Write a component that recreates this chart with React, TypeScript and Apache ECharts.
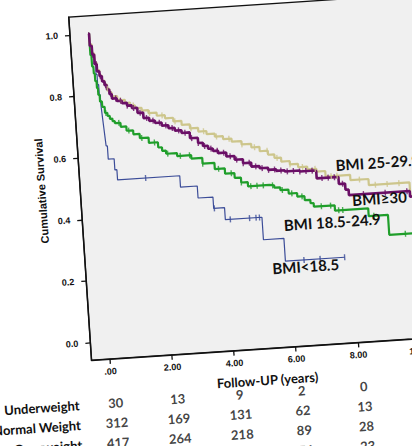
import React, { useEffect, useRef } from "react";
import * as echarts from "echarts";

// Axis ticks
const followUpTicks = [0, 2, 4, 6, 8, 10];
const survivalTicks = [0, 0.2, 0.4, 0.6, 0.8, 1.0];

// Kaplan-Meier estimates: [years, cumulative survival after the event]
const underweightCurve: [number, number][] = [
  [0, 1], [0.03, 0.967], [0.07, 0.933], [0.12, 0.9], [0.17, 0.867], [0.2, 0.833],
  [0.23, 0.8], [0.26, 0.767], [0.28, 0.733], [0.3, 0.7], [0.32, 0.667], [0.34, 0.633],
  [0.38, 0.59], [0.57, 0.554], [0.635, 0.521], [2.64, 0.484], [3.18, 0.445],
  [3.66, 0.408], [4.01, 0.369], [5.19, 0.296], [5.85, 0.222], [7.76, 0.222],
];
const normalCurve: [number, number][] = [
  [0, 1], [0.03, 0.93], [0.06, 0.893], [0.1, 0.87], [0.13, 0.845], [0.17, 0.822],
  [0.2, 0.8], [0.24, 0.778], [0.3, 0.76], [0.375, 0.74], [0.45, 0.73], [0.52, 0.72],
  [0.6, 0.712], [0.67, 0.705], [0.85, 0.692], [1.03, 0.678], [1.24, 0.665],
  [1.44, 0.651], [1.72, 0.634], [2.01, 0.617], [2.13, 0.605], [2.25, 0.595],
  [2.6, 0.585], [3.05, 0.574], [3.4, 0.555], [3.78, 0.535], [4.1, 0.518],
  [4.4, 0.502], [4.6, 0.486], [4.81, 0.472], [5.5, 0.47], [5.65, 0.462],
  [5.84, 0.453], [6.1, 0.44], [6.37, 0.428], [6.6, 0.415], [6.78, 0.404],
  [6.88, 0.392], [7.55, 0.375], [8.62, 0.35], [9.24, 0.285], [10.5, 0.285],
];
const overweightCurve: [number, number][] = [
  [0, 1], [0.03, 0.965], [0.09, 0.935], [0.15, 0.905], [0.21, 0.88], [0.28, 0.862],
  [0.35, 0.845], [0.42, 0.832], [0.49, 0.818], [0.56, 0.805], [0.63, 0.792],
  [0.8, 0.778], [1.04, 0.768], [1.2, 0.758], [1.35, 0.749], [1.56, 0.74],
  [1.77, 0.73], [2.03, 0.72], [2.29, 0.71], [2.55, 0.698], [2.81, 0.685],
  [3.07, 0.672], [3.33, 0.66], [3.59, 0.65], [3.85, 0.64], [4.11, 0.63],
  [4.38, 0.62], [4.69, 0.609], [5.0, 0.597], [5.26, 0.583], [5.52, 0.57],
  [5.72, 0.558], [5.93, 0.545], [6.2, 0.534], [6.46, 0.523], [6.75, 0.514],
  [7.04, 0.505], [7.32, 0.487], [8.11, 0.47], [8.69, 0.45], [10.0, 0.404],
  [10.5, 0.404],
];
const obeseCurve: [number, number][] = [
  [0, 1], [0.03, 0.96], [0.09, 0.931], [0.15, 0.9], [0.21, 0.876], [0.28, 0.86],
  [0.35, 0.843], [0.42, 0.83], [0.49, 0.815], [0.56, 0.8], [0.63, 0.785],
  [0.78, 0.776], [0.94, 0.768], [1.1, 0.759], [1.25, 0.75], [1.42, 0.733],
  [1.6, 0.715], [1.78, 0.705], [1.96, 0.697], [2.17, 0.687], [2.38, 0.677],
  [2.58, 0.668], [2.79, 0.659], [3.05, 0.64], [3.3, 0.623], [3.45, 0.612],
  [3.61, 0.602], [3.76, 0.594], [3.92, 0.586], [4.18, 0.573], [4.44, 0.561],
  [4.7, 0.548], [4.96, 0.535], [5.22, 0.528], [5.49, 0.521], [5.75, 0.516],
  [6.02, 0.512], [6.5, 0.509], [6.98, 0.507], [7.03, 0.483], [7.73, 0.46],
  [7.93, 0.44], [8.03, 0.422], [9.99, 0.404], [10.5, 0.404],
];

// Censoring times (years)
const underweightCensored = [1.54, 3.68, 4.17, 4.79, 5.0, 5.11, 6.45, 6.97, 7.76];
const normalCensored = [
  0.4, 0.8, 1.1, 1.5, 1.9, 2.3, 2.7, 3.0, 3.4, 3.9, 4.3, 4.6, 4.9, 5.1, 5.3, 5.6,
  5.9, 6.2, 6.52, 7.12, 7.42, 7.67, 7.8, 8.79, 9.76,
];
const overweightCensored = [
  0.5, 0.9, 1.3, 1.8, 2.2, 2.6, 3.1, 3.5, 3.9, 4.3, 4.7, 5.1, 5.5, 5.8, 6.2, 6.6,
  7.0, 7.5, 7.69, 8.4, 8.9, 9.28, 9.66,
];
const obeseCensored = [
  0.1, 0.2, 0.3, 0.45, 0.6, 0.75, 0.9, 1.1, 1.3, 1.5, 1.7, 1.9, 2.1, 2.3, 2.5, 2.7,
  2.9, 3.1, 3.3, 3.5, 3.7, 3.9, 4.1, 4.3, 4.5, 4.7, 4.9, 5.1, 5.3, 5.5, 5.7, 5.9,
  6.1, 6.3, 6.5, 6.7, 6.9, 7.2, 7.4, 7.6, 7.85, 8.5, 9.2, 9.9,
];

// Number at risk
const riskGroups = ["Underweight", "Normal Weight", "Overweight", "Obese"];
const riskTimes = [0, 2, 4, 6, 8];
const underweightAtRisk = [30, 13, 9, 2, 0];
const normalAtRisk = [312, 169, 131, 62, 13];
const overweightAtRisk = [417, 264, 218, 89, 28];
const obeseAtRisk = [356, 228, 187, 74, 23];

const groupLabels = ["BMI<18.5", "BMI 18.5-24.9", "BMI 25-29.9", "BMI\u226530"];

const survivalAt = (curve: [number, number][], t: number) => {
  let s = curve[0][1];
  for (const [x, y] of curve) {
    if (x <= t) s = y;
    else break;
  }
  return s;
};

const INK = "#111111";
const AXIS_FONT = "'Liberation Sans', Arial, sans-serif";
const TABLE_FONT = "Lato, 'Open Sans', sans-serif";

export default function App() {
  const ref = useRef<HTMLDivElement>(null);

  useEffect(() => {
    if (!ref.current) return;
    const chart = echarts.init(ref.current, undefined, { renderer: "svg" });

    const groups = [
      { name: groupLabels[0], curve: underweightCurve, censored: underweightCensored, color: "#3b4c98", width: 1.2 },
      { name: groupLabels[1], curve: normalCurve, censored: normalCensored, color: "#1f9e2a", width: 2.2 },
      { name: groupLabels[2], curve: overweightCurve, censored: overweightCensored, color: "#cdc68c", width: 2.2 },
      { name: groupLabels[3], curve: obeseCurve, censored: obeseCensored, color: "#6a0f66", width: 2.6 },
    ];

    const lineSeries = groups.flatMap((g) => [
      {
        type: "line",
        name: g.name,
        xAxisIndex: 0,
        yAxisIndex: 0,
        step: "end",
        data: g.curve,
        showSymbol: false,
        symbol: "none",
        lineStyle: { color: g.color, width: g.width },
        z: 3,
      },
      {
        type: "scatter",
        name: g.name + " censored",
        xAxisIndex: 0,
        yAxisIndex: 0,
        data: g.censored.map((t) => [t, survivalAt(g.curve, t)]),
        symbol: "rect",
        symbolSize: [1.4, 6],
        itemStyle: { color: g.color },
        z: 4,
      },
    ]);

    const riskRows = [underweightAtRisk, normalAtRisk, overweightAtRisk, obeseAtRisk];
    const riskData = riskRows.flatMap((row, i) =>
      row.map((n, j) => [riskTimes[j], riskGroups[i], n])
    );

    chart.setOption({
      animation: false,
      backgroundColor: "#ffffff",
      grid: [
        {
          left: 101,
          top: 60,
          width: 347.2,
          height: 343.7,
          show: true,
          backgroundColor: "#f0f0f0",
          borderColor: INK,
          borderWidth: 1.3,
          outerBoundsMode: "none",
          containLabel: false,
        },
        {
          left: 101,
          top: 437.9,
          width: 347.2,
          height: 79.6,
          show: false,
          outerBoundsMode: "none",
          containLabel: false,
        },
      ],
      xAxis: [
        {
          type: "value",
          gridIndex: 0,
          min: -0.585,
          max: 10.585,
          splitLine: { show: false },
          axisLine: { show: true, onZero: false, lineStyle: { color: INK, width: 1.5 } },
          axisTick: {
            show: true,
            length: 5,
            customValues: followUpTicks,
            lineStyle: { color: INK, width: 1.3 },
          },
          axisLabel: {
            customValues: followUpTicks,
            margin: 8,
            color: INK,
            fontFamily: AXIS_FONT,
            fontWeight: "bold",
            fontSize: 9,
            formatter: (v: number) => (v === 0 ? ".00" : v.toFixed(2)),
          },
        },
        {
          type: "value",
          gridIndex: 1,
          min: -0.585,
          max: 10.585,
          show: false,
        },
      ],
      yAxis: [
        {
          type: "value",
          gridIndex: 0,
          min: -0.0564,
          max: 1.0577,
          splitLine: { show: false },
          axisLine: { show: true, onZero: false, lineStyle: { color: INK, width: 1.5 } },
          axisTick: {
            show: true,
            length: 5,
            customValues: survivalTicks,
            lineStyle: { color: INK, width: 1.3 },
          },
          axisLabel: {
            customValues: survivalTicks,
            margin: 12,
            color: INK,
            fontFamily: AXIS_FONT,
            fontWeight: "bold",
            fontSize: 9,
            formatter: (v: number) => v.toFixed(1),
          },
        },
        {
          type: "category",
          gridIndex: 1,
          data: riskGroups,
          inverse: true,
          axisLine: { show: false },
          axisTick: { show: false },
          splitLine: { show: false },
          axisLabel: {
            margin: 15,
            color: INK,
            fontFamily: TABLE_FONT,
            fontWeight: "bold",
            fontSize: 13,
          },
        },
      ],
      series: [
        ...lineSeries,
        {
          type: "scatter",
          name: "Number at risk",
          xAxisIndex: 1,
          yAxisIndex: 1,
          data: riskData,
          symbolSize: 1,
          itemStyle: { color: "rgba(0,0,0,0)" },
          label: {
            show: true,
            position: "inside",
            offset: [3, 0],
            color: INK,
            fontFamily: TABLE_FONT,
            fontWeight: "bold",
            fontSize: 13,
            formatter: (p: any) => String(p.value[2]),
          },
        },
      ],
      graphic: [
        {
          type: "text",
          x: 133,
          y: 47,
          style: {
            text: "Survival Functions",
            fill: INK,
            font: `bold 13px ${AXIS_FONT}`,
            textAlign: "left",
            textVerticalAlign: "bottom",
          },
        },
        {
          type: "text",
          x: 62.3,
          y: 231.6,
          rotation: Math.PI / 2,
          style: {
            text: "Cumulative Survival",
            fill: INK,
            font: `bold 11px ${AXIS_FONT}`,
            textAlign: "center",
            textVerticalAlign: "middle",
          },
        },
        {
          type: "text",
          x: 275.3,
          y: 435.2,
          style: {
            text: "Follow-UP (years)",
            fill: INK,
            font: `bold 13px ${TABLE_FONT}`,
            textAlign: "center",
            textVerticalAlign: "middle",
          },
        },
        {
          type: "text",
          x: 357.4,
          y: 225.2,
          style: {
            text: groupLabels[2],
            fill: INK,
            font: `bold 15px ${TABLE_FONT}`,
            textAlign: "left",
            textVerticalAlign: "middle",
          },
          z: 10,
        },
        {
          type: "text",
          x: 371.7,
          y: 261.2,
          style: {
            text: groupLabels[3],
            fill: INK,
            font: `bold 15px ${TABLE_FONT}`,
            textAlign: "left",
            textVerticalAlign: "middle",
          },
          z: 10,
        },
        {
          type: "text",
          x: 301.8,
          y: 281.6,
          style: {
            text: groupLabels[1],
            fill: INK,
            font: `bold 15px ${TABLE_FONT}`,
            textAlign: "left",
            textVerticalAlign: "middle",
          },
          z: 10,
        },
        {
          type: "text",
          x: 287.4,
          y: 324.1,
          style: {
            text: groupLabels[0],
            fill: INK,
            font: `bold 15px ${TABLE_FONT}`,
            textAlign: "left",
            textVerticalAlign: "middle",
          },
          z: 10,
        },
      ],
    });

    return () => chart.dispose();
  }, []);

  return (
    <div
      style={{
        position: "fixed",
        left: 0,
        top: 0,
        width: 412,
        height: 446,
        overflow: "hidden",
        background: "#ffffff",
      }}
    >
      <div
        ref={ref}
        style={{
          position: "absolute",
          left: -36.5,
          top: -36,
          width: 560,
          height: 560,
          transform: "rotate(-3.8deg)",
          transformOrigin: "0 0",
        }}
      />
    </div>
  );
}
